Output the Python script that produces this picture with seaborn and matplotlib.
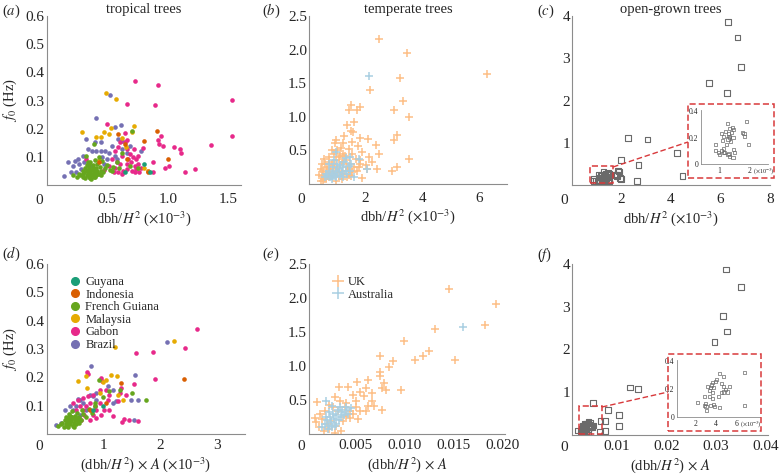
import pandas as pd
import matplotlib
matplotlib.use('Agg')
import matplotlib.pyplot as plt
import seaborn as sns
from matplotlib.patches import Rectangle
from matplotlib.lines import Line2D

# ---------------- data ----------------
# panel (a): f0 against dbh/H^2 (x1e-3), tropical trees
gabon_a = [(0.727, 0.368), (0.917, 0.356), (1.53, 0.302), (0.663, 0.287), (0.895, 0.285),
           (1.53, 0.175), (0.502, 0.216), (1.358, 0.141), (1.224, 0.056), (1.144, 0.047),
           (1.109, 0.113), (1.104, 0.128), (1.048, 0.135), (1.01, 0.066), (0.976, 0.062),
           (0.957, 0.14), (0.93, 0.147), (0.92, 0.16), (0.946, 0.174), (0.882, 0.08),
           (0.879, 0.047), (0.839, 0.049), (0.797, 0.133), (0.754, 0.104), (0.647, 0.151),
           (0.66, 0.127), (0.625, 0.104), (0.673, 0.092), (0.70, 0.08), (0.727, 0.068),
           (0.706, 0.051), (0.74, 0.056), (0.66, 0.056), (0.633, 0.051), (0.607, 0.074),
           (0.58, 0.08), (0.567, 0.062), (0.553, 0.045), (0.687, 0.109), (0.713, 0.098),
           (0.754, 0.074), (0.78, 0.062), (0.767, 0.045), (0.62, 0.039), (0.593, 0.047),
           (0.727, 0.045), (0.668, 0.074), (0.326, 0.092), (0.513, 0.068), (0.473, 0.054),
           (0.54, 0.092), (0.567, 0.121), (0.607, 0.153), (0.66, 0.16), (0.647, 0.186),
           (0.593, 0.135), (0.72, 0.127), (0.74, 0.092)]
brazil_a = [(0.526, 0.321), (0.409, 0.239), (0.567, 0.207), (0.617, 0.213), (0.329, 0.162),
            (0.401, 0.151), (0.446, 0.151), (0.379, 0.121), (0.406, 0.121), (0.446, 0.121),
            (0.481, 0.121), (0.513, 0.115), (0.339, 0.127), (0.58, 0.092), (0.593, 0.162),
            (0.62, 0.156), (0.299, 0.104), (0.259, 0.092), (0.232, 0.086), (0.179, 0.08),
            (0.219, 0.068), (0.272, 0.074), (0.379, 0.068), (0.353, 0.051), (0.144, 0.033),
            (0.246, 0.045), (0.46, 0.098), (0.50, 0.092), (0.62, 0.127), (0.66, 0.115),
            (0.567, 0.104), (0.687, 0.139), (0.433, 0.086), (0.286, 0.056), (0.206, 0.045),
            (0.312, 0.08), (0.473, 0.074), (0.54, 0.139), (0.78, 0.121)]
malaysia_a = [(0.489, 0.327), (0.575, 0.307), (0.291, 0.187), (0.406, 0.172), (0.449, 0.172),
              (0.476, 0.187), (0.513, 0.182), (0.532, 0.204), (0.722, 0.208), (0.706, 0.189),
              (0.655, 0.135), (0.807, 0.062), (0.839, 0.048), (0.433, 0.089), (0.62, 0.168)]
indonesia_a = [(0.588, 0.18), (0.802, 0.155), (0.909, 0.192), (1.0, 0.092), (0.65, 0.146),
               (0.433, 0.08), (0.663, 0.092), (0.834, 0.045)]
guyana_a = [(0.802, 0.074), (0.85, 0.045), (0.647, 0.045)]
fguiana_a = [(0.22, 0.035), (0.25, 0.03), (0.27, 0.04), (0.28, 0.035), (0.30, 0.03),
             (0.30, 0.05), (0.31, 0.045), (0.32, 0.025), (0.32, 0.06), (0.33, 0.035),
             (0.33, 0.07), (0.34, 0.04), (0.34, 0.055), (0.35, 0.03), (0.35, 0.065),
             (0.36, 0.045), (0.36, 0.08), (0.37, 0.035), (0.37, 0.055), (0.38, 0.04),
             (0.38, 0.07), (0.39, 0.03), (0.39, 0.05), (0.40, 0.045), (0.40, 0.09),
             (0.41, 0.035), (0.41, 0.06), (0.42, 0.05), (0.42, 0.075), (0.43, 0.04),
             (0.44, 0.065), (0.45, 0.05), (0.46, 0.085), (0.47, 0.045), (0.48, 0.06),
             (0.50, 0.07), (0.52, 0.055), (0.55, 0.065), (0.58, 0.08), (0.60, 0.06),
             (0.30, 0.04), (0.33, 0.05), (0.36, 0.025), (0.38, 0.06), (0.40, 0.03),
             (0.43, 0.10), (0.35, 0.075), (0.37, 0.02), (0.42, 0.04), (0.45, 0.035),
             (0.393, 0.147), (0.706, 0.192), (0.625, 0.115), (0.687, 0.066), (0.754, 0.06),
             (0.54, 0.051), (0.326, 0.104), (0.339, 0.08)]

# panel (d): f0 against (dbh/H^2) x A (x1e-3)
gabon_d = [(2.65, 0.369), (2.44, 0.302), (1.87, 0.288), (1.58, 0.286), (1.91, 0.194),
           (0.71, 0.218), (0.725, 0.212), (1.55, 0.175), (1.37, 0.053), (1.46, 0.048),
           (1.61, 0.046), (1.33, 0.041), (0.965, 0.198), (0.98, 0.186), (0.936, 0.156),
           (1.08, 0.121), (1.02, 0.086), (0.877, 0.056), (0.76, 0.051), (0.82, 0.068),
           (0.643, 0.086), (0.70, 0.098), (0.76, 0.109), (0.73, 0.133), (0.82, 0.139),
           (0.643, 0.127), (0.556, 0.121), (0.585, 0.098), (0.526, 0.086), (0.67, 0.068),
           (0.85, 0.098), (0.936, 0.109), (1.11, 0.086), (1.26, 0.115), (1.32, 0.162),
           (1.29, 0.145), (1.05, 0.156), (0.965, 0.068), (1.17, 0.062), (0.468, 0.109),
           (0.614, 0.051), (1.40, 0.139), (1.11, 0.139), (0.877, 0.086)]
brazil_d = [(2.12, 0.324), (0.79, 0.239), (1.56, 0.208), (1.17, 0.156), (1.23, 0.115),
            (1.49, 0.119), (1.61, 0.121), (1.55, 0.051), (0.877, 0.121), (0.82, 0.133),
            (0.585, 0.121), (0.556, 0.124), (0.32, 0.086), (0.41, 0.098), (0.468, 0.086),
            (0.643, 0.109), (0.70, 0.086), (0.585, 0.068), (0.35, 0.051), (0.175, 0.033),
            (0.263, 0.039), (0.877, 0.145), (1.08, 0.168), (0.76, 0.139), (0.526, 0.098),
            (1.17, 0.109)]
malaysia_d = [(2.24, 0.327), (1.20, 0.307), (1.13, 0.208), (0.56, 0.187), (0.70, 0.204),
              (0.99, 0.184), (1.05, 0.192), (1.25, 0.204), (1.35, 0.121), (0.72, 0.162),
              (1.26, 0.139), (0.936, 0.145)]
indonesia_d = [(2.43, 0.193), (1.32, 0.18), (0.76, 0.086), (1.05, 0.109)]
guyana_d = [(0.82, 0.086), (0.99, 0.098)]
fguiana_d = [(0.20, 0.03), (0.25, 0.035), (0.28, 0.04), (0.30, 0.025), (0.32, 0.05),
             (0.34, 0.035), (0.35, 0.06), (0.36, 0.045), (0.37, 0.03), (0.38, 0.055),
             (0.39, 0.04), (0.40, 0.07), (0.41, 0.05), (0.42, 0.035), (0.43, 0.06),
             (0.44, 0.045), (0.45, 0.08), (0.46, 0.03), (0.47, 0.055), (0.48, 0.04),
             (0.50, 0.065), (0.51, 0.05), (0.52, 0.035), (0.54, 0.075), (0.55, 0.045),
             (0.57, 0.06), (0.60, 0.05), (0.62, 0.085), (0.65, 0.07), (0.70, 0.06),
             (0.75, 0.09), (0.80, 0.075), (0.85, 0.10), (0.38, 0.025), (0.42, 0.065),
             (0.48, 0.025), (0.53, 0.055), (0.58, 0.04), (0.45, 0.06), (0.40, 0.045),
             (1.75, 0.119), (1.50, 0.145), (0.92, 0.189), (1.11, 0.151), (1.29, 0.156),
             (0.85, 0.109), (1.00, 0.13)]

# panel (b): temperate trees, dbh/H^2 (x1e-3)
uk_b = [(2.49, 2.16), (3.46, 1.95), (6.29, 1.64), (3.22, 1.57), (2.14, 1.40), (3.32, 1.24),
        (2.99, 1.10), (3.53, 1.00), (1.48, 1.17), (1.80, 1.15), (1.40, 1.10), (1.68, 1.10),
        (1.59, 0.93), (1.35, 0.88), (1.49, 0.79), (1.55, 0.77), (1.24, 0.72), (0.94, 0.66),
        (0.91, 0.61), (1.20, 0.61), (1.51, 0.62), (1.82, 0.68), (2.09, 0.67), (1.73, 0.57),
        (2.36, 0.58), (3.12, 0.73), (3.01, 0.66), (1.12, 0.54), (0.82, 0.50), (1.41, 0.52),
        (1.88, 0.47), (2.12, 0.40), (2.46, 0.44), (3.53, 0.37), (3.12, 0.26), (2.95, 0.20),
        (2.41, 0.23), (2.24, 0.33), (2.00, 0.29), (1.76, 0.25), (1.88, 0.09), (1.53, 0.18),
        (1.65, 0.37), (1.29, 0.42), (1.06, 0.40), (1.18, 0.33), (0.71, 0.33), (0.53, 0.37),
        (0.47, 0.30), (0.41, 0.23), (0.35, 0.13), (0.41, 0.05), (0.59, 0.18), (0.76, 0.23),
        (0.88, 0.28), (1.00, 0.18), (1.35, 0.25), (1.41, 0.13), (0.71, 0.10), (0.53, 0.08),
        (1.18, 0.08), (0.94, 0.05), (2.06, 0.23), (1.82, 0.36), (1.53, 0.45),
        (0.45, 0.12), (0.50, 0.20), (0.55, 0.10), (0.60, 0.15), (0.65, 0.25), (0.70, 0.18),
        (0.75, 0.12), (0.80, 0.30), (0.85, 0.22), (0.90, 0.15), (0.95, 0.35), (1.00, 0.25),
        (1.05, 0.12), (1.10, 0.42), (1.15, 0.20), (1.20, 0.30), (1.25, 0.15), (1.30, 0.35),
        (1.35, 0.10), (1.40, 0.22), (1.45, 0.30), (1.50, 0.12), (1.60, 0.25), (1.70, 0.20),
        (1.80, 0.30), (0.50, 0.05), (0.60, 0.08), (0.55, 0.30), (0.70, 0.40), (0.90, 0.45),
        (1.00, 0.50), (1.20, 0.45)]
aus_b = [(2.12, 1.61), (0.94, 0.48), (2.06, 0.22), (1.76, 0.37), (1.59, 0.10),
         (0.55, 0.10), (0.60, 0.15), (0.65, 0.12), (0.70, 0.20), (0.75, 0.10), (0.80, 0.17),
         (0.85, 0.25), (0.90, 0.13), (0.95, 0.20), (1.00, 0.30), (1.00, 0.15), (1.05, 0.22),
         (1.10, 0.12), (1.10, 0.28), (1.15, 0.18), (1.20, 0.25), (1.20, 0.10), (1.25, 0.32),
         (1.30, 0.20), (1.35, 0.15), (1.40, 0.27), (1.45, 0.20), (1.50, 0.30), (0.70, 0.30),
         (0.90, 0.35), (1.30, 0.38), (1.45, 0.40), (0.80, 0.08), (0.95, 0.10)]

# panel (e): temperate trees, (dbh/H^2) x A
uk_e = [(0.01453, 2.13), (0.0194, 1.91), (0.0183, 1.61), (0.0131, 1.54), (0.0099, 1.37),
        (0.0125, 1.22), (0.0119, 1.14), (0.0111, 1.09), (0.0152, 1.09), (0.0075, 1.15),
        (0.0088, 1.08), (0.0084, 0.98), (0.00745, 0.91), (0.00745, 0.86), (0.0063, 0.80),
        (0.0051, 0.76), (0.0042, 0.69), (0.0033, 0.69), (0.0079, 0.75), (0.0077, 0.67),
        (0.0081, 0.65), (0.0096, 0.65), (0.0067, 0.61), (0.0054, 0.62), (0.0060, 0.68),
        (0.0058, 0.56), (0.0047, 0.58), (0.0050, 0.48), (0.0067, 0.48), (0.0069, 0.41),
        (0.0077, 0.36), (0.0062, 0.41), (0.0052, 0.22), (0.0044, 0.34), (0.0040, 0.46),
        (0.0029, 0.54), (0.0010, 0.47), (0.0034, 0.48), (0.0022, 0.43), (0.0018, 0.34),
        (0.0013, 0.29), (0.0008, 0.23), (0.0009, 0.17), (0.0012, 0.10), (0.0017, 0.05),
        (0.0023, 0.07), (0.0030, 0.12), (0.0037, 0.19), (0.0044, 0.24), (0.0047, 0.29),
        (0.0039, 0.39), (0.0025, 0.19), (0.0020, 0.14), (0.0015, 0.22), (0.0032, 0.34),
        (0.0040, 0.27), (0.0027, 0.39), (0.0054, 0.34), (0.0035, 0.05), (0.0029, 0.02),
        (0.0050, 0.39), (0.0060, 0.34)]
aus_e = [(0.016, 1.58), (0.0019, 0.49), (0.0026, 0.41), (0.0040, 0.39),
         (0.0015, 0.10), (0.0018, 0.15), (0.0020, 0.20), (0.0022, 0.12), (0.0024, 0.25),
         (0.0025, 0.17), (0.0027, 0.30), (0.0028, 0.22), (0.0030, 0.15), (0.0030, 0.28),
         (0.0032, 0.35), (0.0033, 0.20), (0.0035, 0.25), (0.0036, 0.32), (0.0038, 0.28),
         (0.0040, 0.36), (0.0042, 0.30), (0.0021, 0.08), (0.0026, 0.10), (0.0029, 0.12),
         (0.0023, 0.32), (0.0034, 0.40), (0.0045, 0.38), (0.0019, 0.25)]

# panel (c): open-grown trees, dbh/H^2 (x1e-3); cluster is also the inset
open_c = [(6.31, 3.86), (6.69, 3.49), (6.84, 2.79), (5.53, 2.41), (6.25, 2.18), (2.25, 1.12),
          (3.05, 1.08), (4.25, 0.75), (1.97, 0.59), (2.69, 0.47), (1.85, 0.34), (1.93, 0.16),
          (2.63, 0.09), (4.47, 0.21), (1.77, 0.25)]
open_c_cluster = [(1.27, 0.31), (1.44, 0.28), (1.49, 0.26), (1.89, 0.32), (1.77, 0.24),
                  (1.82, 0.23), (1.83, 0.21), (1.98, 0.15), (1.35, 0.27), (1.22, 0.25),
                  (1.10, 0.23), (1.15, 0.21), (1.32, 0.23), (1.33, 0.21), (1.35, 0.20),
                  (1.46, 0.20), (1.39, 0.17), (1.30, 0.19), (1.11, 0.18), (0.89, 0.15),
                  (1.14, 0.12), (0.90, 0.10), (0.98, 0.09), (1.03, 0.07), (1.14, 0.09),
                  (1.30, 0.07), (1.35, 0.06), (1.33, 0.08), (1.48, 0.11), (1.52, 0.09),
                  (1.19, 0.09), (1.09, 0.10), (1.46, 0.05), (1.25, 0.15), (1.41, 0.24)]

# panel (f): open-grown trees, (dbh/H^2) x A; cluster in units of 1e-3
open_f = [(0.0320, 3.87), (0.0351, 3.47), (0.0315, 2.79), (0.0323, 2.42), (0.0297, 2.18),
          (0.0127, 1.11), (0.0143, 1.08), (0.0053, 0.75), (0.0082, 0.59), (0.0104, 0.47),
          (0.0077, 0.33), (0.0104, 0.21), (0.0077, 0.10), (0.0031, 0.12)]
open_f_cluster = [(6.74, 0.32), (6.68, 0.08), (4.32, 0.315), (4.68, 0.29), (4.03, 0.27),
                  (3.90, 0.255), (3.68, 0.25), (3.52, 0.23), (3.13, 0.22), (3.45, 0.21),
                  (3.71, 0.21), (4.52, 0.24), (4.68, 0.22), (4.90, 0.20), (5.32, 0.22),
                  (5.06, 0.18), (4.68, 0.18), (4.48, 0.175), (4.26, 0.145), (3.61, 0.177),
                  (3.39, 0.19), (2.90, 0.15), (3.35, 0.145), (3.61, 0.13), (2.23, 0.105),
                  (2.97, 0.097), (2.87, 0.085), (3.03, 0.073), (3.06, 0.048), (3.45, 0.085),
                  (3.77, 0.09), (3.87, 0.078), (4.32, 0.07)]

countries = ['Guyana', 'Indonesia', 'French Guiana', 'Malaysia', 'Gabon', 'Brazil']
country_colors = dict(zip(countries, ['#1b9e77', '#d95f02', '#66a61e', '#e6ab02', '#e7298a', '#7570b3']))
draw_order = ['Brazil', 'Gabon', 'Malaysia', 'French Guiana', 'Indonesia', 'Guyana']
temperate_colors = {'UK': '#fdbf86', 'Australia': '#a9cfe2'}
red = '#d8393b'
axis_grey = '#8c8c8c'


def frame(pairs, group, scale=1.0):
    df = pd.DataFrame(pairs, columns=['x', 'y'])
    df['x'] = df['x'] * scale
    df['group'] = group
    return df


tropical_a = pd.concat([frame(p, c) for c, p in zip(
    countries, [guyana_a, indonesia_a, fguiana_a, malaysia_a, gabon_a, brazil_a])])
tropical_d = pd.concat([frame(p, c) for c, p in zip(
    countries, [guyana_d, indonesia_d, fguiana_d, malaysia_d, gabon_d, brazil_d])])
temperate_b = pd.concat([frame(uk_b, 'UK'), frame(aus_b, 'Australia')])
temperate_e = pd.concat([frame(uk_e, 'UK'), frame(aus_e, 'Australia')])
open_c_all = pd.concat([frame(open_c, 'open'), frame(open_c_cluster, 'open')])
open_f_all = pd.concat([frame(open_f, 'open'), frame(open_f_cluster, 'open', 1e-3)])
open_f_inset = frame(open_f_cluster, 'open')

# ---------------- figure ----------------
sns.set_theme(style='white')
plt.rcParams['font.family'] = ['Liberation Serif', 'DejaVu Serif']
plt.rcParams['mathtext.fontset'] = 'stix'

fig = plt.figure(figsize=(7.84, 4.74), dpi=100)
W, H = 784, 474
TICK_FS = 11
LABEL_FS = 10.5
LEGEND_FS = 9


def px_axes(l, t, r, b):
    return fig.add_axes([l / W, 1 - b / H, (r - l) / W, (b - t) / H])


ax_a = px_axes(46.5, 16, 240.5, 185)
ax_b = px_axes(309, 16, 507, 184)
ax_c = px_axes(572, 16, 770, 185)
ax_d = px_axes(46.5, 264, 245, 434)
ax_e = px_axes(309, 264, 505, 434)
ax_f = px_axes(572, 264, 768, 435)


def style(ax, xlim, ylim, xticks, xlabels, yticks, ylabels, xpad=5.5):
    ax.set_xlim(xlim)
    ax.set_ylim(ylim)
    ax.set_xticks(xticks, xlabels)
    ax.set_yticks(yticks, ylabels)
    for s in ['top', 'right']:
        ax.spines[s].set_visible(False)
    for s in ['left', 'bottom']:
        ax.spines[s].set_color(axis_grey)
        ax.spines[s].set_linewidth(0.8)
    ax.tick_params(direction='in', length=3, width=0.6, color=axis_grey, labelsize=TICK_FS)
    ax.tick_params(axis='x', pad=xpad)
    ax.tick_params(axis='y', pad=1.5)
    ax.set_xlabel('')
    ax.set_ylabel('')


def corner_zero(ax, dy):
    ax.annotate('0', xy=(0, 0), xycoords='axes fraction', xytext=(-4, dy),
                textcoords='offset pixels', ha='right', va='top', fontsize=TICK_FS)


# (a) tropical
for c in draw_order:
    sns.scatterplot(data=tropical_a[tropical_a.group == c], x='x', y='y', color=country_colors[c],
                    s=11, linewidth=0, ax=ax_a, legend=False)
style(ax_a, (0, 1.6), (0, 0.6), [0.5, 1.0, 1.5], ['0.5', '1.0', '1.5'],
      [0.1, 0.2, 0.3, 0.4, 0.5, 0.6], ['0.1', '0.2', '0.3', '0.4', '0.5', '0.6'])
ax_a.set_title('tropical trees', fontsize=LABEL_FS, pad=2)

# (d) tropical
for c in draw_order:
    sns.scatterplot(data=tropical_d[tropical_d.group == c], x='x', y='y', color=country_colors[c],
                    s=11, linewidth=0, ax=ax_d, legend=False)
style(ax_d, (0, 3.5), (0, 0.6), [1, 2, 3], ['1', '2', '3'],
      [0.1, 0.2, 0.3, 0.4, 0.5, 0.6], ['0.1', '0.2', '0.3', '0.4', '0.5', '0.6'], xpad=3.5)
handles = [Line2D([], [], marker='o', ls='', color=country_colors[c], markersize=5.5) for c in countries]
ax_d.legend(handles, countries, loc='upper left', bbox_to_anchor=(0.12, 0.93), frameon=False,
            fontsize=LEGEND_FS, handlelength=0.8, handletextpad=0.4, labelspacing=0.05,
            borderpad=0, borderaxespad=0)

# (b) temperate
for g in ['UK', 'Australia']:
    sns.scatterplot(data=temperate_b[temperate_b.group == g], x='x', y='y', marker='+',
                    color=temperate_colors[g], s=34, linewidth=1.1, ax=ax_b, legend=False)
style(ax_b, (0, 7), (0, 2.5), [2, 4, 6], ['2', '4', '6'],
      [0.5, 1.0, 1.5, 2.0, 2.5], ['0.5', '1.0', '1.5', '2.0', '2.5'])
ax_b.set_title('temperate trees', fontsize=LABEL_FS, pad=2)

# (e) temperate
for g in ['UK', 'Australia']:
    sns.scatterplot(data=temperate_e[temperate_e.group == g], x='x', y='y', marker='+',
                    color=temperate_colors[g], s=34, linewidth=1.1, ax=ax_e, legend=False)
style(ax_e, (0.0002, 0.0203), (0, 2.5), [0.005, 0.010, 0.015, 0.020],
      ['0.005', '0.010', '0.015', '0.020'],
      [0.5, 1.0, 1.5, 2.0, 2.5], ['0.5', '1.0', '1.5', '2.0', '2.5'], xpad=3.5)
handles = [Line2D([], [], marker='+', ls='', color=temperate_colors[g], markersize=8, mew=1.1)
           for g in ['UK', 'Australia']]
ax_e.legend(handles, ['UK', 'Australia'], loc='upper left', bbox_to_anchor=(0.12, 0.93),
            frameon=False, fontsize=LEGEND_FS, handlelength=0.8, handletextpad=0.4,
            labelspacing=0.05, borderpad=0, borderaxespad=0)

# (c) open-grown
sns.scatterplot(data=open_c_all, x='x', y='y', marker='s', facecolor='none', edgecolor='#6a6a6a',
                s=17, linewidth=0.8, ax=ax_c, legend=False)
style(ax_c, (0, 8), (0, 4), [2, 4, 6, 8], ['2', '4', '6', '8'], [1, 2, 3, 4], ['1', '2', '3', '4'])
ax_c.set_title('open-grown trees', fontsize=LABEL_FS, pad=2)
ax_c.add_patch(Rectangle((0.73, 0.055), 0.94, 0.395, fill=False, edgecolor=red, lw=1.1, ls=(0, (4, 2))))

# (f) open-grown
sns.scatterplot(data=open_f_all, x='x', y='y', marker='s', facecolor='none', edgecolor='#6a6a6a',
                s=17, linewidth=0.8, ax=ax_f, legend=False)
style(ax_f, (0.001, 0.0405), (0, 4), [0.01, 0.02, 0.03, 0.04], ['0.01', '0.02', '0.03', '0.04'],
      [1, 2, 3, 4], ['1', '2', '3', '4'], xpad=3.5)
ax_f.add_patch(Rectangle((0.0025, 0.03), 0.0045, 0.64, fill=False, edgecolor=red, lw=1.1, ls=(0, (4, 2))))

for ax in [ax_a, ax_b, ax_c]:
    corner_zero(ax, -9)
for ax in [ax_d, ax_e, ax_f]:
    corner_zero(ax, -6)

# axis labels
xl_top = r'dbh/$H^2$ ($\times$10$^{-3}$)'
for ax in [ax_a, ax_b, ax_c]:
    ax.set_xlabel(xl_top, fontsize=LABEL_FS)
    ax.xaxis.set_label_coords(0.5, -0.14)
ax_d.set_xlabel(r'(dbh/$H^2$) $\times$ $A$ ($\times$10$^{-3}$)', fontsize=LABEL_FS)
ax_e.set_xlabel(r'(dbh/$H^2$) $\times$ $A$', fontsize=LABEL_FS)
ax_f.set_xlabel(r'(dbh/$H^2$) $\times$ $A$', fontsize=LABEL_FS)
for ax in [ax_d, ax_e, ax_f]:
    ax.xaxis.set_label_coords(0.5, -0.125)
for ax in [ax_a, ax_d]:
    ax.set_ylabel(r'$f_0$ (Hz)', fontsize=LABEL_FS)
    ax.yaxis.set_label_coords(-0.14, 0.5)

# panel letters
for letter, (x, y) in zip('abcdef', [(2, 11), (262, 11), (537, 11), (2, 254), (262, 254), (537, 255)]):
    fig.text(x / W, 1 - y / H, '($%s$)' % letter, fontsize=LABEL_FS, va='center', ha='left')


# insets
def inset(l, t, r, b, box, data, xlim, xticks, unit_x):
    ins = px_axes(l, t, r, b)
    sns.scatterplot(data=data, x='x', y='y', marker='s', facecolor='none', edgecolor='#6a6a6a',
                    s=5, linewidth=0.5, ax=ins, legend=False)
    ins.set_xlim(xlim)
    ins.set_ylim(0, 0.41)
    ins.set_xticks(xticks, [str(t) for t in xticks])
    ins.set_yticks([0, 0.2, 0.4], ['0', '0.2', '0.4'])
    ins.set_xlabel('')
    ins.set_ylabel('')
    for s in ['top', 'right']:
        ins.spines[s].set_visible(False)
    for s in ['left', 'bottom']:
        ins.spines[s].set_color(axis_grey)
        ins.spines[s].set_linewidth(0.6)
    ins.tick_params(direction='in', length=1.5, width=0.4, color=axis_grey, labelsize=5.5, pad=2)
    ins.annotate(r'($\times$10$^{-3}$)', xy=(unit_x, 0), xycoords=('data', 'axes fraction'),
                 xytext=(0, -2), textcoords='offset points', ha='left', va='top', fontsize=4.5)
    bl, bt, br, bb = box
    fig.add_artist(Rectangle((bl / W, 1 - bb / H), (br - bl) / W, (bb - bt) / H, fill=False,
                             edgecolor=red, lw=1.1, ls=(0, (4, 2)), transform=fig.transFigure))
    return ins


inset(701, 110, 768, 164, (688, 104, 774, 178), frame(open_c_cluster, 'open'), (0.42, 2.6), [1, 2], 2.12)
inset(677, 360, 760, 417, (668, 354, 761, 431), open_f_inset, (0.25, 8.2), [2, 4, 6], 6.3)

for (x0, y0), (x1, y1) in [((613, 167), (688, 142)), ((602, 407), (668, 392))]:
    fig.add_artist(Line2D([x0 / W, x1 / W], [1 - y0 / H, 1 - y1 / H], color=red, lw=1.0,
                          ls=(0, (4, 2)), transform=fig.transFigure))

fig.savefig('out.png', dpi=100)
